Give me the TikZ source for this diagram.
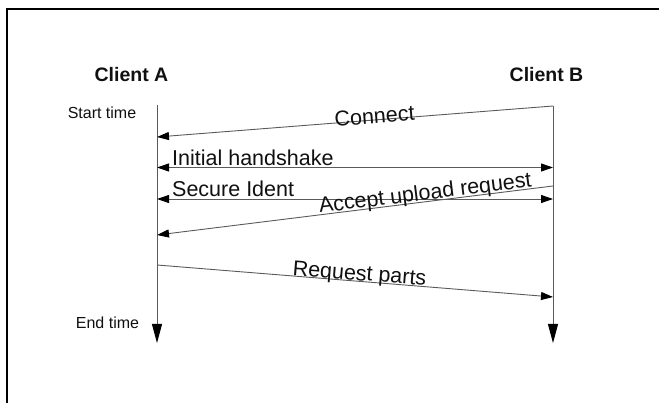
\documentclass[tikz,border=0pt]{standalone}
\usepackage{fontspec}
\setmainfont{Liberation Sans}
\usetikzlibrary{arrows.meta}
\definecolor{linegray}{HTML}{5A5A5A}
\definecolor{ink}{HTML}{101010}
\tikzset{
  tipbig/.tip={Triangle[length=19pt,width=10pt,color=black]},
  tipsmall/.tip={Triangle[length=12pt,width=8pt,color=black]},
  lifeline/.style={draw=linegray, line width=0.9pt, -tipbig},
  msg/.style={draw=linegray, line width=0.9pt, -tipsmall},
  dmsg/.style={draw=linegray, line width=0.9pt, tipsmall-tipsmall},
  msglabel/.style={text=ink, inner sep=0pt, font=\fontsize{21.5}{24}\selectfont},
  party/.style={text=ink, inner sep=0pt, font=\fontsize{19.5}{22}\selectfont\bfseries},
  timelabel/.style={text=ink, inner sep=0pt, font=\fontsize{16}{18}\selectfont},
}
\begin{document}
\begin{tikzpicture}[x=1pt, y=-1pt]
  \useasboundingbox (0,0) rectangle (659,403);
  % frame edges
  \draw[black, line width=2pt] (7,403) -- (7,9) -- (659,9);

  % participants
  \node[party] (cliA) at (131.5,74.5) {Client A};
  \node[party] (cliB) at (546.5,74.5) {Client B};
  \node[timelabel] (tstart) at (102,113) {Start time};
  \node[timelabel] (tend) at (107.5,323) {End time};

  % lifeline anchors
  \coordinate (a0) at (157,105);
  \coordinate (aEnd) at (157,343);
  \coordinate (b0) at (553,106);
  \coordinate (bEnd) at (553,343);

  % message end points
  \coordinate (a1) at (157,137);
  \coordinate (a2) at (157,167.5);
  \coordinate (b2) at (553,167.5);
  \coordinate (a3) at (157,199);
  \coordinate (b3) at (553,199);
  \coordinate (b4) at (553,186);
  \coordinate (a4) at (157,235);
  \coordinate (a5) at (157,265);
  \coordinate (b5) at (553,297);

  % lifelines
  \draw[lifeline] (a0) -- (aEnd);
  \draw[lifeline] (b0) -- (bEnd);

  % messages
  \draw[msg] (b0) -- node[msglabel, sloped, pos=0.45, anchor=south, yshift=-4pt] (lConnect) {Connect} (a1);
  \draw[dmsg] (a2) -- (b2);
  \node[msglabel, anchor=base west] (lInit) at (172,166) {Initial handshake};
  \draw[dmsg] (a3) -- (b3);
  \node[msglabel, anchor=base west] (lIdent) at (172,196.5) {Secure Ident};
  \draw[msg] (b4) -- node[msglabel, sloped, pos=0.32, anchor=south, yshift=-3pt] (lAccept) {Accept upload request} (a4);
  \draw[msg] (a5) -- node[msglabel, sloped, pos=0.51, anchor=south, yshift=-4pt] (lParts) {Request parts} (b5);
\end{tikzpicture}
\end{document}
